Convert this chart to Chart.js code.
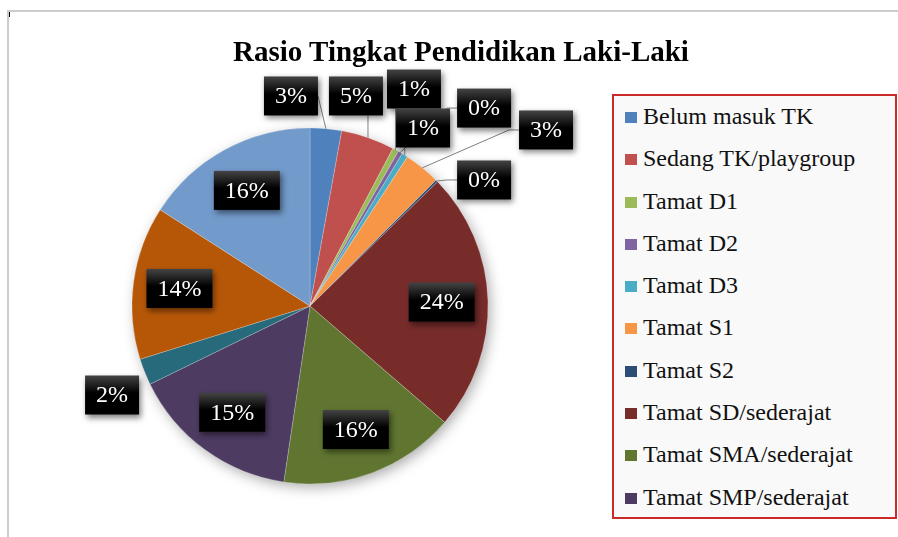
<!DOCTYPE html>
<html>
<head>
<meta charset="utf-8">
<script src="https://cdn.jsdelivr.net/npm/chart.js@4.4.1/dist/chart.umd.min.js"></script>
<style>
    body { margin: 0; background: #fff; }
    #wrap { position: relative; width: 898px; height: 537px; overflow: hidden; }
    #frame { position: absolute; left: 7px; top: 10px; right: 0; bottom: 0; border-top: 2px solid #cdcdcd; border-left: 2px solid #cdcdcd; }
    #tick { position: absolute; left: 9px; top: 12px; width: 1px; height: 5px; background: #000; }
    #title { position: absolute; left: 0; top: 37px; width: 922px; text-align: center; font: bold 29px/29px "Liberation Serif", "Times New Roman", serif; color: #000; }
    #legend { position: absolute; left: 612px; top: 94px; width: 281px; height: 414px; border: 2px solid #cc2a27; background: #f9f9f9; padding-top: 7px; box-sizing: content-box; }
    .item { height: 42.3px; line-height: 42.3px; font: 24px "Liberation Serif", "Times New Roman", serif; color: #111; white-space: nowrap; }
    .item span { display: inline-block; width: 12px; height: 11px; margin: 0 6px 0 11px; vertical-align: 1px; }
    canvas { position: absolute; left: 0; top: 0; }
</style>
</head>
<body>
<div id="wrap">
    <div id="frame"></div>
    <div id="tick"></div>
    <canvas id="pieChart" width="898" height="537"></canvas>
    <div id="title">Rasio Tingkat Pendidikan Laki-Laki</div>
    <div id="legend"></div>
</div>
<script>
// Data (shares, percent of total)
const categories = [
    "Belum masuk TK", "Sedang TK/playgroup", "Tamat D1", "Tamat D2", "Tamat D3",
    "Tamat S1", "Tamat S2", "Tamat SD/sederajat", "Tamat SMA/sederajat",
    "Tamat SMP/sederajat", "Tidak pernah sekolah", "Tidak tamat SD/sederajat", "Usia sekolah"
];
const shares = [2.85, 4.85, 0.55, 0.4, 0.55, 3.3, 0.2, 23.6, 16, 15.4, 2.4, 13.9, 15.9];
const colors = [
    "#4f81bd", "#c0504d", "#9bbb59", "#8064a2", "#4bacc6", "#f79646", "#2c4d75",
    "#772c2a", "#5f7530", "#4d3b62", "#276a7c", "#b65708", "#729aca"
];
const legendCount = 10; // the legend box only has room for the first ten

// Where labels sit outside the pie: offset from the centre, in radii (null = inside)
const labelSpots = [
    { fx: -0.107, fy: -1.18, line: true },
    { fx: 0.258, fy: -1.18, line: true },
    { fx: 0.584, fy: -1.219, line: true },
    { fx: 0.978, fy: -1.112, line: true },
    { fx: 0.635, fy: -1.0, line: true },
    { fx: 1.326, fy: -0.989, line: true },
    { fx: 0.978, fy: -0.708, line: true },
    null, null, null,
    { fx: -1.112, fy: 0.5, line: false },
    null, null
];

// Soft shadow behind the whole pie
const pieShadow = {
    id: "pieShadow",
    beforeDatasetsDraw(chart) {
        const arc = chart.getDatasetMeta(0).data[0];
        if (!arc) return;
        const ctx = chart.ctx;
        ctx.save();
        ctx.shadowColor = "rgba(0,0,0,0.35)";
        ctx.shadowBlur = 14;
        ctx.shadowOffsetX = 3;
        ctx.shadowOffsetY = 4;
        ctx.fillStyle = "#fff";
        ctx.beginPath();
        ctx.arc(arc.x, arc.y, arc.outerRadius - 1, 0, Math.PI * 2);
        ctx.fill();
        ctx.restore();
    }
};

// Black percentage boxes with leader lines
const percentLabels = {
    id: "percentLabels",
    afterDatasetsDraw(chart) {
        const ctx = chart.ctx;
        const arcs = chart.getDatasetMeta(0).data;
        const total = shares.reduce((a, b) => a + b, 0);
        ctx.save();
        ctx.font = '24px "Liberation Serif", "Times New Roman", serif';
        const boxes = arcs.map((arc, i) => {
            const mid = (arc.startAngle + arc.endAngle) / 2;
            const r = arc.outerRadius;
            const spot = labelSpots[i];
            let cx, cy;
            if (spot) {
                cx = arc.x + spot.fx * r;
                cy = arc.y + spot.fy * r;
            } else {
                cx = arc.x + Math.cos(mid) * r * 0.74;
                cy = arc.y + Math.sin(mid) * r * 0.74;
            }
            const text = Math.round(shares[i] / total * 100) + "%";
            const w = ctx.measureText(text).width + 22;
            const h = 39;
            return {
                text, cx, cy, x0: cx - w / 2, x1: cx + w / 2, y0: cy - h / 2, y1: cy + h / 2,
                px: arc.x + Math.cos(mid) * r, py: arc.y + Math.sin(mid) * r,
                line: spot && spot.line
            };
        });

        // leader lines first so boxes cover them
        ctx.strokeStyle = "#7f7f7f";
        ctx.lineWidth = 1;
        boxes.forEach(b => {
            if (!b.line) return;
            ctx.beginPath();
            if (b.px >= b.x0 && b.px <= b.x1) {
                ctx.moveTo(b.px, b.py > b.y1 ? b.y1 : b.y0);
            } else {
                const side = b.px < b.x0 ? b.x0 : b.x1;
                const dir = b.px < b.x0 ? -1 : 1;
                ctx.moveTo(side, b.cy);
                if (Math.abs(b.px - side) > 15) ctx.lineTo(side + dir * 10, b.cy);
            }
            ctx.lineTo(b.px, b.py);
            ctx.stroke();
        });

        boxes.forEach(b => {
            const grad = ctx.createLinearGradient(0, b.y0, 0, b.y1);
            grad.addColorStop(0, "#444");
            grad.addColorStop(0.45, "#000");
            grad.addColorStop(1, "#000");
            ctx.save();
            ctx.shadowColor = "rgba(0,0,0,0.5)";
            ctx.shadowBlur = 6;
            ctx.shadowOffsetX = 2;
            ctx.shadowOffsetY = 3;
            ctx.fillStyle = grad;
            ctx.fillRect(b.x0, b.y0, b.x1 - b.x0, b.y1 - b.y0);
            ctx.restore();
            ctx.fillStyle = "#fff";
            ctx.textAlign = "center";
            ctx.textBaseline = "middle";
            ctx.fillText(b.text, b.cx, b.cy + 1);
        });
        ctx.restore();
    }
};

const ctx = document.getElementById("pieChart").getContext("2d");
const chart = new Chart(ctx, {
    type: "pie",
    data: {
        labels: categories,
        datasets: [{
            data: shares,
            backgroundColor: colors,
            borderColor: "rgba(255,255,255,0.35)",
            borderWidth: 0.6,
            radius: 178
        }]
    },
    options: {
        responsive: false,
        animation: false,
        devicePixelRatio: 1,
        layout: { padding: { left: 0, right: 278, top: 75, bottom: 0 } },
        plugins: {
            legend: { display: false },
            tooltip: { enabled: false },
            title: { display: false }
        }
    },
    plugins: [pieShadow, percentLabels]
});

// Legend built from the chart's own labels and colours
const legendEl = document.getElementById("legend");
chart.data.labels.slice(0, legendCount).forEach((label, i) => {
    const row = document.createElement("div");
    row.className = "item";
    const sw = document.createElement("span");
    sw.style.background = chart.data.datasets[0].backgroundColor[i];
    row.appendChild(sw);
    row.appendChild(document.createTextNode(label));
    legendEl.appendChild(row);
});
</script>
</body>
</html>
